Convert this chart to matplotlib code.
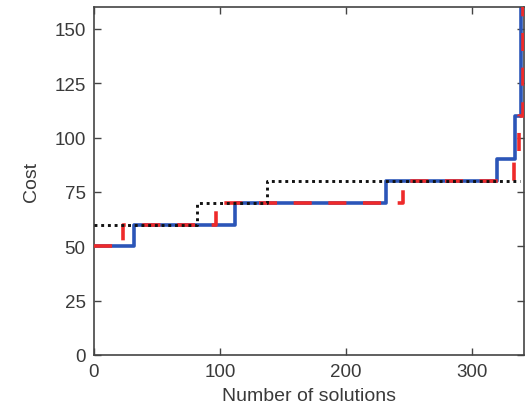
import matplotlib
matplotlib.use("Agg")
import matplotlib.pyplot as plt

# step curves: cost level reached after n solutions
blue_x = [0, 32, 112, 232, 320, 334, 339, 342]
blue_y = [50, 60, 70, 80, 90, 110, 160, 160]

red_x = [0, 23, 97, 245, 333, 337, 340, 342]
red_y = [50, 60, 70, 80, 90, 110, 160, 160]

black_x = [0, 82, 137, 338]
black_y = [60, 70, 80, 80]

xticks = [0, 100, 200, 300]
yticks = [0, 25, 50, 75, 100, 125, 150]

plt.rcParams['font.family'] = ['Liberation Sans', 'DejaVu Sans']
grey = '#444444'

fig = plt.figure(figsize=(5.28, 4.10), dpi=100)
ax = fig.add_axes([0.178, 0.132, 0.814, 0.848])

ax.plot(blue_x, blue_y, drawstyle='steps-post', color='#2b55b8', lw=2.6, zorder=2)
ax.plot(red_x, red_y, drawstyle='steps-post', color='#ee2a2a', lw=2.6,
        dashes=(5, 4.6), zorder=3)
ax.plot(black_x, black_y, drawstyle='steps-post', color='#111111', lw=2.1,
        dashes=(1, 1.3), zorder=4)

ax.set_xlim(0, 341)
ax.set_ylim(0, 160)
ax.set_xticks(xticks)
ax.set_yticks(yticks)
ax.tick_params(direction='in', top=True, right=True, length=5, width=1,
               colors=grey, labelsize=13.5, labelcolor='#3a3a3a', pad=6)
for s in ax.spines.values():
    s.set_color(grey)
    s.set_linewidth(1.2)

ax.set_xlabel('Number of solutions', fontsize=14, color='#3a3a3a', labelpad=5)
ax.set_ylabel('Cost', fontsize=14, color='#3a3a3a', labelpad=10)

fig.savefig('out.png', dpi=100)
